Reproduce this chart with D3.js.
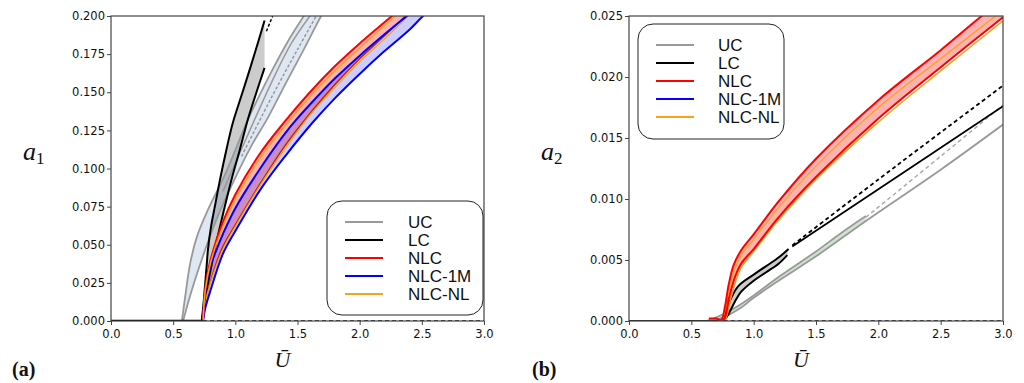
<!DOCTYPE html>
<html>
<head>
<meta charset="utf-8">
<script src="https://cdn.jsdelivr.net/npm/d3@7"></script>
<style>
  body { margin: 0; background: #fff; }
  svg { display: block; }
</style>
</head>
<body>
<div id="chart"></div>
<script>
// tick values
var xTicks = [0, 0.5, 1.0, 1.5, 2.0, 2.5, 3.0];
var a1Ticks = [0, 0.025, 0.05, 0.075, 0.1, 0.125, 0.15, 0.175, 0.2];
var a2Ticks = [0, 0.005, 0.01, 0.015, 0.02, 0.025];
var legendLabels = ["UC", "LC", "NLC", "NLC-1M", "NLC-NL"];
var legendColors = ["#999999", "#000000", "#ff0000", "#0000ff", "#f5a31a"];

// panel (a): a1 vs U
var a1UCLeft = [[0.57,0],[0.60,0.018],[0.635,0.037],[0.69,0.055],[0.78,0.073],[0.9,0.093],[1.0,0.112],[1.09,0.13],[1.2,0.149],[1.3,0.165],[1.42,0.183],[1.55,0.2],[1.6,0.207]];
var a1UCRight = [[0.58,0],[0.62,0.012],[0.68,0.028],[0.75,0.045],[0.85,0.067],[1.0,0.094],[1.13,0.115],[1.26,0.133],[1.4,0.155],[1.55,0.178],[1.69,0.2],[1.72,0.204]];
var a1UCMid = [[0.9,0.085],[1.1,0.122],[1.3,0.158],[1.45,0.182],[1.6,0.2]];
var a1UCDash = [[1.05,0.108],[1.3,0.148],[1.5,0.178],[1.65,0.2]];
var a1LCUpper = [[0.73,0],[0.745,0.012],[0.755,0.022],[0.77,0.037],[0.78,0.047],[0.805,0.062],[0.835,0.075],[0.88,0.094],[0.93,0.113],[0.98,0.13],[1.05,0.148],[1.12,0.166],[1.18,0.182],[1.235,0.197]];
var a1LCLower = [[0.73,0],[0.75,0.01],[0.77,0.02],[0.8,0.033],[0.835,0.047],[0.88,0.063],[0.93,0.08],[0.98,0.096],[1.035,0.112],[1.1,0.132],[1.17,0.15],[1.235,0.166]];
var a1LCDash = [[1.25,0.19],[1.3,0.2]];
var a1NLCUpper = [[0.74,0],[0.76,0.023],[0.8,0.04],[0.9,0.065],[1.0,0.083],[1.2,0.11],[1.4,0.131],[1.6,0.15],[1.8,0.167],[2.0,0.182],[2.26,0.2],[2.5,0.216]];
var a1NLCLower = [[0.74,0],[0.76,0.013],[0.8,0.026],[0.89,0.047],[1.0,0.063],[1.2,0.09],[1.4,0.115],[1.56,0.132],[1.8,0.155],[2.0,0.172],[2.2,0.187],[2.37,0.2],[2.6,0.216]];
var a1NLC1MUpper = [[0.74,0],[0.76,0.02],[0.8,0.036],[0.85,0.047],[0.9,0.057],[1.0,0.074],[1.2,0.1],[1.4,0.123],[1.49,0.132],[1.6,0.142],[1.8,0.159],[2.0,0.174],[2.2,0.188],[2.38,0.2],[2.6,0.214]];
var a1NLC1MLower = [[0.74,0],[0.76,0.009],[0.8,0.02],[0.9,0.044],[1.0,0.059],[1.2,0.086],[1.4,0.108],[1.62,0.13],[1.8,0.146],[2.0,0.162],[2.2,0.177],[2.4,0.191],[2.51,0.2],[2.7,0.213]];
var a1NLCNLUpper = [[0.74,0],[0.76,0.021],[0.8,0.038],[0.9,0.062],[1.0,0.08],[1.2,0.107],[1.4,0.128],[1.6,0.147],[1.8,0.164],[2.0,0.179],[2.29,0.2],[2.5,0.212]];
var a1NLCNLLower = [[0.74,0],[0.76,0.012],[0.8,0.025],[0.9,0.047],[1.0,0.062],[1.2,0.089],[1.4,0.113],[1.6,0.135],[1.8,0.153],[2.0,0.17],[2.2,0.185],[2.39,0.2]];
var a1ZeroSolid = [[0,0],[0.74,0]];
var a1ZeroDash = [[0.74,0],[3.0,0]];

// panel (b): a2 vs U
var a2UCUpper = [[0.62,0],[0.7,0.0003],[0.8,0.0008],[0.9,0.0014],[1.0,0.0021],[1.2,0.0036],[1.5,0.0057],[1.7,0.0072],[1.9,0.0086]];
var a2UCLower = [[0.6,0],[0.7,0.0001],[0.8,0.0005],[0.9,0.0011],[1.0,0.0019],[1.2,0.0033],[1.5,0.0053],[1.9,0.0082],[2.5,0.0124],[3.0,0.0161]];
var a2UCDash = [[1.9,0.0085],[2.5,0.0135],[3.0,0.0177]];
var a2LCUpper = [[0.75,0],[0.78,0.0008],[0.82,0.0019],[0.88,0.0029],[1.0,0.0038],[1.1,0.0045],[1.2,0.0052],[1.28,0.0059]];
var a2LCLower = [[0.76,0],[0.8,0.0006],[0.85,0.0016],[0.9,0.0024],[1.0,0.0033],[1.1,0.004],[1.2,0.0047],[1.27,0.0054]];
var a2LCSolid = [[1.31,0.0061],[2.0,0.0108],[3.0,0.0176]];
var a2LCDash = [[1.31,0.0062],[2.0,0.0116],[3.0,0.0193]];
var a2NLCUpper = [[0.64,0.0002],[0.7,0.0002],[0.74,0.0001],[0.77,0.0012],[0.8,0.003],[0.84,0.0046],[0.9,0.0058],[1.0,0.0071],[1.2,0.0098],[1.5,0.0133],[2.0,0.0181],[2.5,0.0222],[2.83,0.025],[3.0,0.0263]];
var a2NLCLower = [[0.7,0],[0.76,0.0001],[0.8,0.0018],[0.85,0.0036],[0.9,0.0047],[1.0,0.0059],[1.2,0.0085],[1.5,0.0118],[2.0,0.0166],[2.5,0.0208],[3.0,0.0249]];
var a2NLCNLUpper = [[0.66,0.0001],[0.74,0],[0.78,0.0013],[0.81,0.0029],[0.85,0.0043],[0.9,0.0054],[1.0,0.0067],[1.2,0.0093],[1.5,0.0127],[2.0,0.0175],[2.5,0.0215],[2.94,0.025]];
var a2NLCNLLower = [[0.72,0],[0.77,0.0001],[0.81,0.0016],[0.86,0.0034],[0.9,0.0044],[1.0,0.0057],[1.2,0.0083],[1.5,0.0116],[2.0,0.0163],[2.5,0.0205],[3.0,0.0246]];
var a2ZeroSolid = [[0,0],[0.72,0]];
var a2ZeroDash = [[0.76,0],[3.0,0]];

var svg = d3.select("#chart").append("svg")
  .attr("width", 1024)
  .attr("height", 383);

function panel(opt) {
  var top = 16, bottom = 321;
  var x = d3.scaleLinear().domain([0, 3]).range([opt.left, opt.right]);
  var y = d3.scaleLinear().domain([0, opt.ymax]).range([bottom, top]);
  var line = d3.line()
    .x(function(d) { return x(d[0]); })
    .y(function(d) { return y(d[1]); })
    .curve(d3.curveCatmullRom.alpha(0.5));

  var g = svg.append("g");

  g.append("clipPath").attr("id", opt.id + "clip")
    .append("rect")
    .attr("x", opt.left).attr("y", top)
    .attr("width", opt.right - opt.left).attr("height", bottom - top);

  var plot = g.append("g").attr("clip-path", "url(#" + opt.id + "clip)");

  // filled bands between two curves
  opt.bands.forEach(function(b) {
    plot.append("path")
      .attr("d", line(b.upper) + "L" + line(b.lower.slice().reverse()).slice(1) + "Z")
      .attr("fill", b.fill)
      .attr("stroke", "none");
  });

  // curves
  opt.curves.forEach(function(c) {
    plot.append("path")
      .attr("d", line(c.data))
      .attr("fill", "none")
      .attr("stroke", c.color)
      .attr("stroke-width", c.width || 2)
      .attr("stroke-dasharray", c.dash || null)
      .attr("stroke-linejoin", "round");
  });

  // axes
  var xAxis = g.append("g")
    .attr("transform", "translate(0," + bottom + ")")
    .call(d3.axisBottom(x).tickValues(xTicks).tickFormat(d3.format(".1f")).tickSize(4).tickSizeOuter(0));
  var yAxis = g.append("g")
    .attr("transform", "translate(" + opt.left + ",0)")
    .call(d3.axisLeft(y).tickValues(opt.yTicks).tickFormat(d3.format(".3f")).tickSize(4).tickSizeOuter(0));
  [xAxis, yAxis].forEach(function(a) {
    a.select(".domain").remove();
    a.selectAll("line").attr("stroke", "#444");
    a.selectAll("text")
      .attr("fill", "#111")
      .style("font-family", "DejaVu Sans")
      .style("font-size", "11.5px");
  });
  xAxis.selectAll("text").attr("dy", "1em").attr("y", 5);
  yAxis.selectAll("text").attr("x", -6);

  // frame
  g.append("rect")
    .attr("x", opt.left).attr("y", top)
    .attr("width", opt.right - opt.left).attr("height", bottom - top)
    .attr("fill", "none").attr("stroke", "#444").attr("stroke-width", 1.2);

  // legend
  var lg = g.append("g");
  lg.append("rect")
    .attr("x", opt.legend.x).attr("y", opt.legend.y)
    .attr("width", opt.legend.w).attr("height", opt.legend.h)
    .attr("rx", 15).attr("ry", 15)
    .attr("fill", "#fff").attr("fill-opacity", 0.85)
    .attr("stroke", "#222").attr("stroke-width", 1);
  legendLabels.forEach(function(lab, i) {
    var yy = opt.legend.y + 21 + i * 18;
    lg.append("line")
      .attr("x1", opt.legend.x + 18).attr("x2", opt.legend.x + 56)
      .attr("y1", yy).attr("y2", yy)
      .attr("stroke", legendColors[i]).attr("stroke-width", 2.2);
    lg.append("text")
      .attr("x", opt.legend.x + opt.legend.tx).attr("y", yy)
      .attr("dy", "0.36em")
      .style("font-family", "Liberation Sans")
      .style("font-size", "17px")
      .attr("fill", "#111")
      .text(lab);
  });

  // axis labels
  var yl = g.append("text")
    .attr("x", opt.left - 88).attr("y", 160)
    .style("font-family", "Liberation Serif")
    .style("font-size", "26px")
    .attr("fill", "#111");
  yl.append("tspan").style("font-style", "italic").text("a");
  yl.append("tspan").attr("dy", 4).style("font-size", "17px").text(opt.sub);

  g.append("text")
    .attr("x", (opt.left + opt.right) / 2 - 15).attr("y", 367)
    .attr("text-anchor", "middle")
    .style("font-family", "Liberation Serif")
    .style("font-style", "italic")
    .style("font-size", "22px")
    .attr("fill", "#111")
    .text("Ū");

  g.append("text")
    .attr("x", opt.tag).attr("y", 376)
    .style("font-family", "Liberation Serif")
    .style("font-weight", "bold")
    .style("font-size", "20px")
    .attr("fill", "#111")
    .text(opt.tagText);
}

panel({
  id: "pa", left: 111, right: 484, ymax: 0.2, yTicks: a1Ticks, sub: "1",
  tag: 12, tagText: "(a)",
  legend: { x: 327, y: 201, w: 156, h: 114, tx: 81 },
  bands: [
    { upper: a1UCLeft, lower: a1UCRight, fill: "rgba(176,196,222,0.4)" },
    { upper: a1LCUpper, lower: a1LCLower, fill: "rgba(0,0,0,0.2)" },
    { upper: a1NLCUpper, lower: a1NLCLower, fill: "rgba(255,0,0,0.3)" },
    { upper: a1NLC1MUpper, lower: a1NLC1MLower, fill: "rgba(0,0,255,0.2)" }
  ],
  curves: [
    { data: a1UCLeft, color: "#999999", width: 1.8 },
    { data: a1UCRight, color: "#999999", width: 1.8 },
    { data: a1UCMid, color: "#999999", width: 1.5 },
    { data: a1UCDash, color: "#999999", width: 1.5, dash: "3,2" },
    { data: a1LCUpper, color: "#000", width: 2 },
    { data: a1LCLower, color: "#000", width: 2 },
    { data: a1LCDash, color: "#000", width: 1.5, dash: "3,2" },
    { data: a1NLCLower, color: "#cc2200", width: 1.5 },
    { data: a1NLCNLLower, color: "#f5a31a", width: 1.2 },
    { data: a1NLC1MLower, color: "#0000ff", width: 2 },
    { data: a1NLC1MUpper, color: "#0000ff", width: 2 },
    { data: a1NLCUpper, color: "#ff0000", width: 2 },
    { data: a1NLCNLUpper, color: "#f5a31a", width: 1.5 },
    { data: a1ZeroDash, color: "#000", width: 1.5, dash: "4,3" },
    { data: a1ZeroSolid, color: "#000", width: 2.5 }
  ]
});

panel({
  id: "pb", left: 629, right: 1003, ymax: 0.025, yTicks: a2Ticks, sub: "2",
  tag: 532, tagText: "(b)",
  legend: { x: 638, y: 24, w: 146, h: 115, tx: 80 },
  bands: [
    { upper: a2UCUpper, lower: a2UCLower.slice(0, 8), fill: "rgba(120,180,120,0.35)" },
    { upper: a2LCUpper, lower: a2LCLower, fill: "rgba(0,0,0,0.2)" },
    { upper: a2NLCUpper, lower: a2NLCLower, fill: "rgba(255,0,0,0.3)" }
  ],
  curves: [
    { data: a2UCUpper, color: "#999999", width: 1.8 },
    { data: a2UCLower, color: "#999999", width: 1.8 },
    { data: a2UCDash, color: "#aaaaaa", width: 1.5, dash: "4,3" },
    { data: a2LCUpper, color: "#000", width: 2 },
    { data: a2LCLower, color: "#000", width: 2 },
    { data: a2LCSolid, color: "#000", width: 1.8 },
    { data: a2LCDash, color: "#000", width: 1.8, dash: "4,3" },
    { data: a2NLCNLLower, color: "#f5a31a", width: 1.5 },
    { data: a2NLCNLUpper, color: "#f5a31a", width: 1.2 },
    { data: a2NLCLower, color: "#ff0000", width: 2 },
    { data: a2NLCUpper, color: "#ff0000", width: 2 },
    { data: a2ZeroDash, color: "#000", width: 1.5, dash: "4,3" },
    { data: a2ZeroSolid, color: "#222", width: 2.2 }
  ]
});
</script>
</body>
</html>
